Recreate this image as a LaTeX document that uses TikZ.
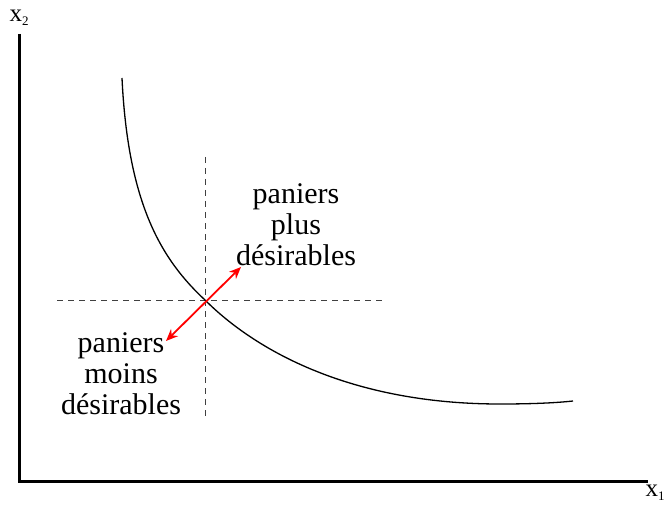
\documentclass[tikz,border=0pt]{standalone}
\usepackage{fontspec}
\setmainfont{Liberation Serif}
\usetikzlibrary{arrows.meta}
\begin{document}
\begin{tikzpicture}[x=1pt,y=-1pt,
  axis/.style={line width=3pt},
  guide/.style={dashed,dash pattern=on 6pt off 5pt,line width=1pt,black!75},
  curve/.style={line width=1.3pt},
  redarrow/.style={red,line width=1.8pt,{Stealth[length=12pt,width=10pt]}-{Stealth[length=12pt,width=10pt]}},
  lbl/.style={font=\fontsize{30}{31}\selectfont,align=center,inner sep=0pt},
  axlbl/.style={font=\fontsize{25}{26}\selectfont,inner sep=0pt}]
\useasboundingbox (0,0) rectangle (669,505);
\coordinate (o) at (19,481);
\coordinate (ytop) at (19,34);
\coordinate (xend) at (648,481);
\draw[axis] (ytop) -- (o) -- (xend);
\node[axlbl] (x2) at (19,18) {x\raisebox{-0.35ex}{\fontsize{13}{14}\selectfont 2}};
\node[axlbl] (x1) at (655,493) {x\raisebox{-0.35ex}{\fontsize{13}{14}\selectfont 1}};
\coordinate (v1) at (205,157);
\coordinate (v2) at (205,416);
\coordinate (h1) at (57,300);
\coordinate (h2) at (385,300);
\draw[guide] (v1) -- (v2);
\draw[guide] (h1) -- (h2);
\coordinate (c0) at (122,78);
\coordinate (p) at (205,300);
\coordinate (c2) at (500,404);
\coordinate (c3) at (573,401);
\draw[curve] (c0) .. controls (128,205) and (162,260) .. (p)
  .. controls (255,350) and (350,404) .. (c2)
  .. controls (530,404) and (555,403) .. (c3);
\coordinate (a1) at (241,267);
\coordinate (a2) at (166,341);
\draw[redarrow] (a2) -- (a1);
\node[lbl] (plus) at (296,225) {paniers\\plus\\désirables};
\node[lbl] (moins) at (121,374) {paniers\\moins\\désirables};
\end{tikzpicture}
\end{document}
